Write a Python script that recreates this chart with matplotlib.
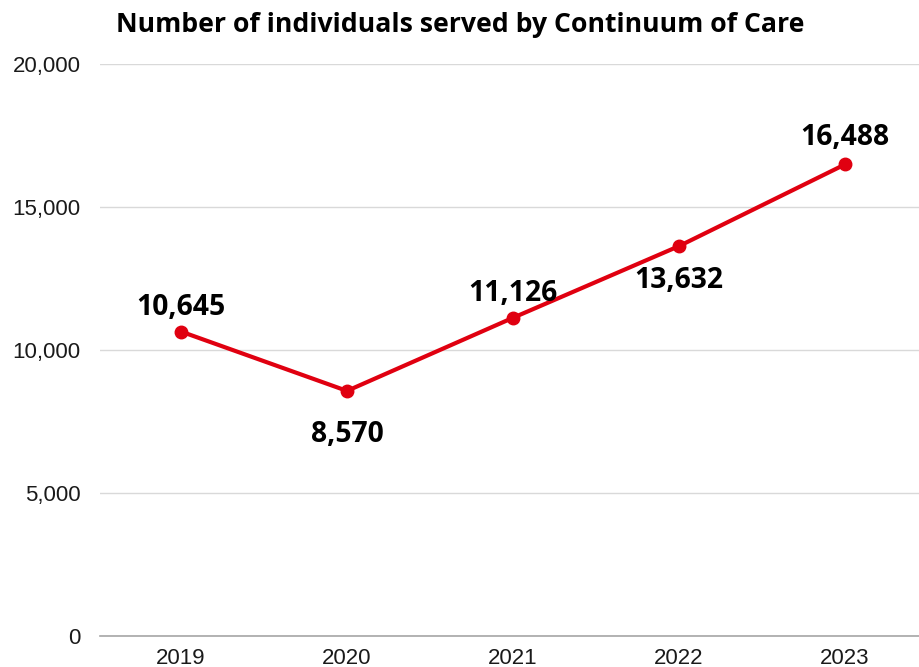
import matplotlib.pyplot as plt
from matplotlib.ticker import FuncFormatter

years = ["2019", "2020", "2021", "2022", "2023"]
served = [10645, 8570, 11126, 13632, 16488]
y_ticks = [0, 5000, 10000, 15000, 20000]

# label offset from each point, in points (positive = above)
label_offset = [7, -21, 7, -14, 9]

fig = plt.figure(figsize=(9.2, 6.67), dpi=100)
ax = fig.add_axes([100 / 920, (667 - 636) / 667, 820 / 920, (636 - 64) / 667])

x = list(range(len(years)))
ax.plot(x, served, color="#e00010", linewidth=3, marker="o", markersize=9,
        solid_capstyle="round", zorder=3, clip_on=False)

for xi, v, off in zip(x, served, label_offset):
    va = "bottom" if off > 0 else "top"
    ax.annotate(f"{v:,}", (xi, v), xytext=(0, off), textcoords="offset points",
                ha="center", va=va, fontsize=20.3, fontweight="bold",
                family="Open Sans", color="#000000")

ax.set_xlim(-0.488, 4.452)
ax.set_ylim(0, 20000)
ax.set_xticks(x)
ax.set_xticklabels(years)
ax.set_yticks(y_ticks)
ax.yaxis.set_major_formatter(FuncFormatter(lambda v, p: f"{int(v):,}"))

for lbl in ax.get_xticklabels() + ax.get_yticklabels():
    lbl.set_family("Liberation Sans")
    lbl.set_fontsize(16)
    lbl.set_color("#1a1a1a")
ax.tick_params(axis="y", length=0, pad=14)
ax.tick_params(axis="x", length=0, pad=8.5)

ax.grid(axis="y", color="#d9d9d9", linewidth=1)
ax.set_axisbelow(True)
for s in ["top", "right", "left"]:
    ax.spines[s].set_visible(False)
ax.spines["bottom"].set_color("#a6a6a6")
ax.spines["bottom"].set_linewidth(1.2)

fig.text(0.5, 1 - 25 / 667, "Number of individuals served by Continuum of Care",
         ha="center", va="center", fontsize=19.2, fontweight="bold",
         family="Open Sans", color="#000000")

fig.savefig("out.png", dpi=100)
